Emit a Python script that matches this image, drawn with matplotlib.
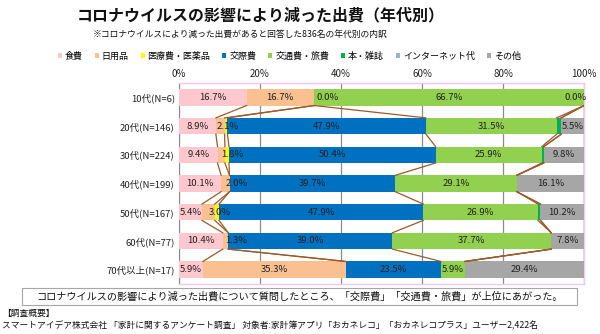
import numpy as np
import matplotlib.pyplot as plt
from matplotlib.patches import Rectangle

plt.rcParams['font.family'] = ['Noto Sans CJK JP', 'DejaVu Sans']

ages = ['10代(N=6)', '20代(N=146)', '30代(N=224)', '40代(N=199)',
        '50代(N=167)', '60代(N=77)', '70代以上(N=17)']
cats = ['食費', '日用品', '医療費・医薬品', '交際費', '交通費・旅費',
        '本・雑誌', 'インターネット代', 'その他']
colors = ['#FFC7CE', '#FAC090', '#FFFF00', '#0070C0', '#92D050',
          '#00B050', '#95B3D7', '#A6A6A6']

# nan = no answer in that category (no label shown)
nan = np.nan
food     = [16.7, 8.9, 9.4, 10.1, 5.4, 10.4, 5.9]
daily    = [16.7, 2.1, 1.8, 2.0, 3.0, 1.3, 35.3]
medical  = [nan, 0.7, 1.0, nan, 1.0, nan, nan]
social   = [0.0, 47.9, 50.4, 39.7, 47.9, 39.0, 23.5]
travel   = [66.7, 31.5, 25.9, 29.1, 26.9, 37.7, 5.9]
books    = [nan, 1.1, 0.5, nan, 0.6, nan, nan]
internet = [nan, nan, nan, nan, nan, nan, nan]
other    = [0.0, 5.5, 9.8, 16.1, 10.2, 7.8, 29.4]

vals = np.array([food, daily, medical, social, travel, books, internet, other])
raw = np.nan_to_num(vals)
# 100% stacked bar
pct = raw / raw.sum(axis=0) * 100
cum = np.cumsum(pct, axis=0)
left = cum - pct

fig = plt.figure(figsize=(6, 3.34), dpi=100)
ax = fig.add_axes([0.2983, 0.1497, 0.675, 0.6018])

y = np.arange(len(ages))
h = 0.57
for i, c in enumerate(cats):
    ax.barh(y, pct[i], left=left[i], height=h, color=colors[i], label=c, zorder=3)

# series lines between bars
for i in range(len(cats)):
    for j in range(len(ages) - 1):
        ax.plot([cum[i, j], cum[i, j + 1]], [y[j] + h / 2, y[j + 1] - h / 2],
                color='#9C5A2A', lw=0.9, zorder=4)

# data labels
for i in range(len(cats)):
    for j in range(len(ages)):
        v = vals[i, j]
        if np.isnan(v) or (0 < v < 1.2):
            continue
        cx = left[i, j] + pct[i, j] / 2
        ha = 'center'
        if v == 0 and cum[i, j] >= 99.9:
            cx, ha = 100.6, 'right'
        elif v == 0:
            cx = cx + 0.5
            ha = 'left'
        elif v < 3.5 and i > 0:
            ha = 'left'
            if j == 1:
                cx -= 1.0
        ax.text(cx, y[j], f'{v:.1f}%', ha=ha, va='center', fontsize=6.9,
                color='#222222', zorder=5)

ax.set_xlim(0, 100)
ax.set_ylim(len(ages) - 0.5, -0.5)
ax.set_yticks(y)
ax.set_yticklabels(ages, fontsize=6.8, color='#222222')
ax.set_xticks([0, 20, 40, 60, 80, 100])
ax.set_xticklabels(['0%', '20%', '40%', '60%', '80%', '100%'], fontsize=7,
                   color='#222222')
ax.xaxis.tick_top()
ax.tick_params(length=0, pad=3)
ax.grid(axis='x', color='#8C8C8C', lw=0.9, zorder=1)
for s in ['top', 'bottom', 'right']:
    ax.spines[s].set_color('#F4C6F4')
    ax.spines[s].set_linewidth(1)
ax.spines['left'].set_color('#8C8C8C')

fig.text(0.435, 0.955, 'コロナウイルスの影響により減った出費（年代別）', ha='center',
         va='center', fontsize=11.5, fontweight='bold', color='#111111')
fig.text(0.155, 0.898, '※コロナウイルスにより減った出費があると回答した836名の年代別の内訳',
         ha='left', va='center', fontsize=6.3, color='#111111')

fig.legend(loc='center', bbox_to_anchor=(0.482, 0.832), ncol=8, frameon=False,
           fontsize=6.5, handlelength=0.45, handleheight=0.45,
           handletextpad=0.3, columnspacing=1.35, borderpad=0)

fig.patches.append(Rectangle((0.037, 0.087), 0.925, 0.05, transform=fig.transFigure,
                             fill=False, edgecolor='#A6A6A6', lw=0.8))
fig.text(0.5, 0.112, 'コロナウイルスの影響により減った出費について質問したところ、「交際費」「交通費・旅費」が上位にあがった。',
         ha='center', va='center', fontsize=7.3, color='#111111')
fig.text(0.004, 0.062, '【調査概要】', ha='left', va='center', fontsize=6.3,
         color='#111111')
fig.text(0.004, 0.025, 'スマートアイデア株式会社 「家計に関するアンケート調査」 対象者:家計簿アプリ「おカネレコ」「おカネレコプラス」ユーザー2,422名',
         ha='left', va='center', fontsize=6.3, color='#111111')

fig.savefig('out.png', dpi=100)
